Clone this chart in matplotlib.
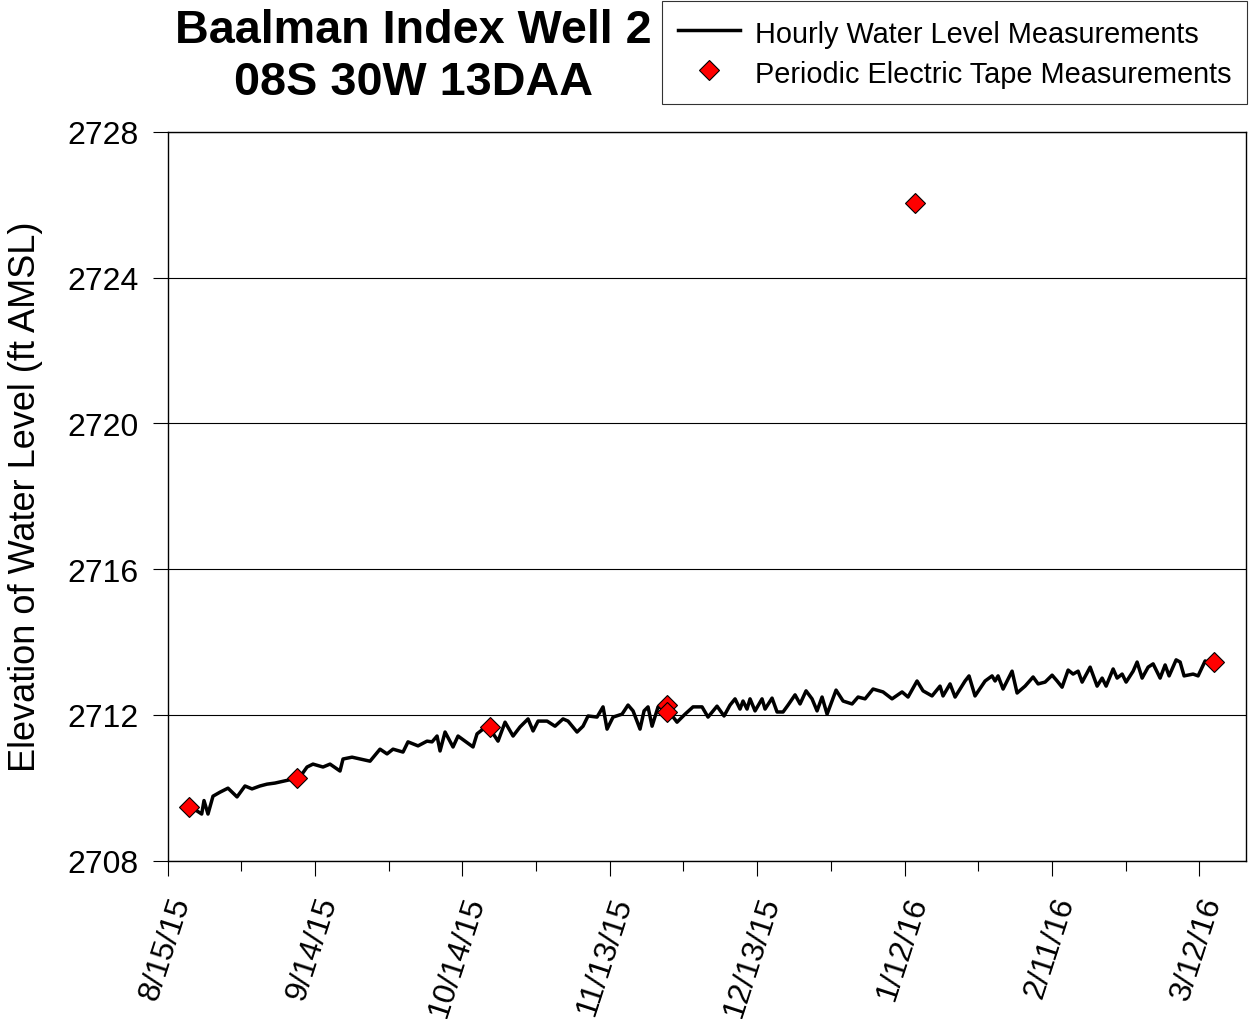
import pandas as pd
import numpy as np
import matplotlib
matplotlib.use('Agg')
import matplotlib.pyplot as plt

plt.rcParams['font.family'] = ['Liberation Sans', 'DejaVu Sans']

# Datos
inicio = pd.Timestamp('2015-08-15')

# nivel horario: dias desde 8/15/15 y elevacion
dias = [5.94, 6.96, 7.43, 8.24, 9.26, 10.69, 12.31, 14.15, 15.77, 17.20, 18.83, 20.25,
        21.88, 23.92, 25.54, 26.97, 28.40, 29.61, 31.65, 33.08, 35.11, 35.72, 37.56, 39.18,
        41.22, 43.25, 44.68, 45.90, 47.93, 48.95, 50.99, 52.82, 53.84, 54.86,
        55.47, 56.49, 58.11, 59.13, 60.56, 62.18, 63.00, 64.22, 65.60, 67.27, 68.70, 70.33,
        71.75, 73.38, 74.40, 75.42, 77.25, 78.87, 80.50, 81.52, 83.35, 84.57, 85.59, 87.42,
        88.64, 89.46, 90.68, 92.51, 93.73, 94.75, 96.17, 96.99, 97.80, 98.62, 99.84, 101.67,
        103.70, 105.33, 106.96, 108.79, 110.01, 111.84,
        113.27, 114.49, 115.51, 116.52, 117.13, 117.95, 118.56, 119.58, 121.00, 121.62, 123.04,
        124.06, 125.28, 126.30, 127.72, 128.74, 129.96, 131.18, 132.20, 133.22, 134.24, 136.07,
        137.50, 139.33, 140.55, 141.97, 143.60, 145.63, 147.46, 149.50, 150.72, 152.55, 153.77,
        155.60, 157.23, 157.84, 159.27, 160.29, 162.32, 163.13, 164.35,
        166.40, 167.82, 168.43, 169.04, 170.06, 171.89, 172.91, 174.54, 176.17, 177.19, 178.61,
        180.04, 181.06, 182.07, 183.30, 184.31, 185.33, 186.15, 187.78, 189.20, 190.22, 191.03,
        192.46, 193.27, 194.29, 195.10, 196.53, 197.34, 198.36, 199.58, 200.60, 202.02, 203.04,
        203.85, 205.28, 206.09, 206.90, 208.74, 209.75, 211.18, 212.20, 212.81]

nivel = [2709.37, 2709.28, 2709.65, 2709.28, 2709.77, 2709.88, 2709.99, 2709.75, 2710.05,
         2709.97, 2710.05, 2710.10, 2710.13, 2710.19, 2710.24, 2710.30, 2710.57, 2710.65,
         2710.57, 2710.65, 2710.46, 2710.79, 2710.84, 2710.79, 2710.73, 2711.06, 2710.93,
         2711.06, 2710.98, 2711.26, 2711.15, 2711.28, 2711.26, 2711.42,
         2711.01, 2711.53, 2711.12, 2711.42, 2711.28, 2711.12, 2711.48, 2711.61, 2711.62,
         2711.28, 2711.80, 2711.42, 2711.67, 2711.89, 2711.56, 2711.83, 2711.83, 2711.69,
         2711.89, 2711.83, 2711.53, 2711.69, 2711.97, 2711.94, 2712.22, 2711.61, 2711.94,
         2712.02, 2712.27, 2712.11, 2711.61, 2712.11, 2712.22, 2711.69, 2712.22, 2712.16,
         2711.80, 2712.02, 2712.22, 2712.22, 2711.94, 2712.24,
         2711.97, 2712.27, 2712.44, 2712.16, 2712.38, 2712.16, 2712.44, 2712.11, 2712.44,
         2712.16, 2712.46, 2712.08, 2712.08, 2712.27, 2712.55, 2712.30, 2712.66, 2712.44,
         2712.11, 2712.49, 2712.02, 2712.68, 2712.38, 2712.30, 2712.49, 2712.44, 2712.71,
         2712.63, 2712.44, 2712.63, 2712.49, 2712.93, 2712.66, 2712.52, 2712.79, 2712.52,
         2712.85, 2712.49, 2712.93, 2713.07, 2712.52,
         2712.93, 2713.07, 2712.93, 2713.07, 2712.71, 2713.20, 2712.60, 2712.79, 2713.04,
         2712.85, 2712.90, 2713.09, 2712.93, 2712.76, 2713.23, 2713.12, 2713.20, 2712.90,
         2713.31, 2712.79, 2713.01, 2712.79, 2713.26, 2713.01, 2713.12, 2712.90, 2713.20,
         2713.45, 2713.01, 2713.31, 2713.40, 2713.01, 2713.37, 2713.07, 2713.51, 2713.45,
         2713.07, 2713.12, 2713.07, 2713.48, 2713.40, 2713.31]

# medidas con cinta electrica
fechas_cinta = ['2015-08-19 10:30', '2015-09-10 10:20', '2015-10-19 15:20',
                '2015-11-24 17:30', '2015-11-24 17:30', '2016-01-14 03:30',
                '2016-03-15 00:00']
nivel_cinta = [2709.46, 2710.26, 2711.66, 2712.28, 2712.07, 2726.04, 2713.44]

ticks_x = ['2015-08-15', '2015-09-14', '2015-10-14', '2015-11-13',
           '2015-12-13', '2016-01-12', '2016-02-11', '2016-03-12']
etiquetas_x = ['8/15/15', '9/14/15', '10/14/15', '11/13/15',
               '12/13/15', '1/12/16', '2/11/16', '3/12/16']
ticks_y = [2708, 2712, 2716, 2720, 2724, 2728]

# Grafica
fig = plt.figure(figsize=(12.5, 10.2), dpi=100)
ax = fig.add_axes([0.134, 0.1552, 0.8628, 0.7147])

t_linea = inicio + pd.to_timedelta(dias, unit='D')
ax.plot(t_linea, nivel, color='black', linewidth=2.5,
        label='Hourly Water Level Measurements', zorder=3)
ax.plot(pd.to_datetime(fechas_cinta), nivel_cinta, linestyle='none', marker='D',
        markersize=10, markerfacecolor='red', markeredgecolor='black',
        markeredgewidth=0.8, label='Periodic Electric Tape Measurements', zorder=4)

ax.set_yticks(ticks_y)
ax.set_ylim(2708, 2728)

mayores = pd.to_datetime(ticks_x)
ax.set_xticks(mayores)
ax.set_xticklabels(etiquetas_x, rotation=72, ha='right', va='top',
                   rotation_mode='anchor')
ax.set_xticks(mayores + pd.Timedelta(days=15), minor=True)
# los limites despues de los ticks (set_xticks amplia la vista)
ax.set_xlim(inicio, inicio + pd.Timedelta(days=219.5))

ax.tick_params(axis='both', which='major', direction='out', length=11, width=0.8,
               labelsize=23, pad=10)
ax.tick_params(axis='x', which='major', pad=12)
ax.tick_params(axis='x', which='minor', direction='out', length=7.5, width=0.8)
ax.tick_params(axis='y', which='minor', left=False)

ax.yaxis.grid(True, color='black', linewidth=0.8)
ax.set_axisbelow(True)
for s in ax.spines.values():
    s.set_linewidth(1.0)

ax.set_ylabel('Elevation of Water Level (ft AMSL)', fontsize=26, labelpad=17)

fig.text(413 / 1250, 1 - 31 / 1020, 'Baalman Index Well 2', fontsize=33.7,
         fontweight='bold', ha='center', va='center')
fig.text(413 / 1250, 1 - 83 / 1020, '08S 30W 13DAA', fontsize=33.7,
         fontweight='bold', ha='center', va='center')

leg = fig.legend(loc='upper right', bbox_to_anchor=(1247 / 1250, 1 - 2 / 1020),
                 fontsize=20.8, frameon=True, fancybox=False, edgecolor='black',
                 handlelength=2.15, handletextpad=0.5, handleheight=1.3,
                 labelspacing=0.3, borderpad=0.55, borderaxespad=0)
leg.get_frame().set_linewidth(0.8)

fig.savefig('out.png', dpi=100)
